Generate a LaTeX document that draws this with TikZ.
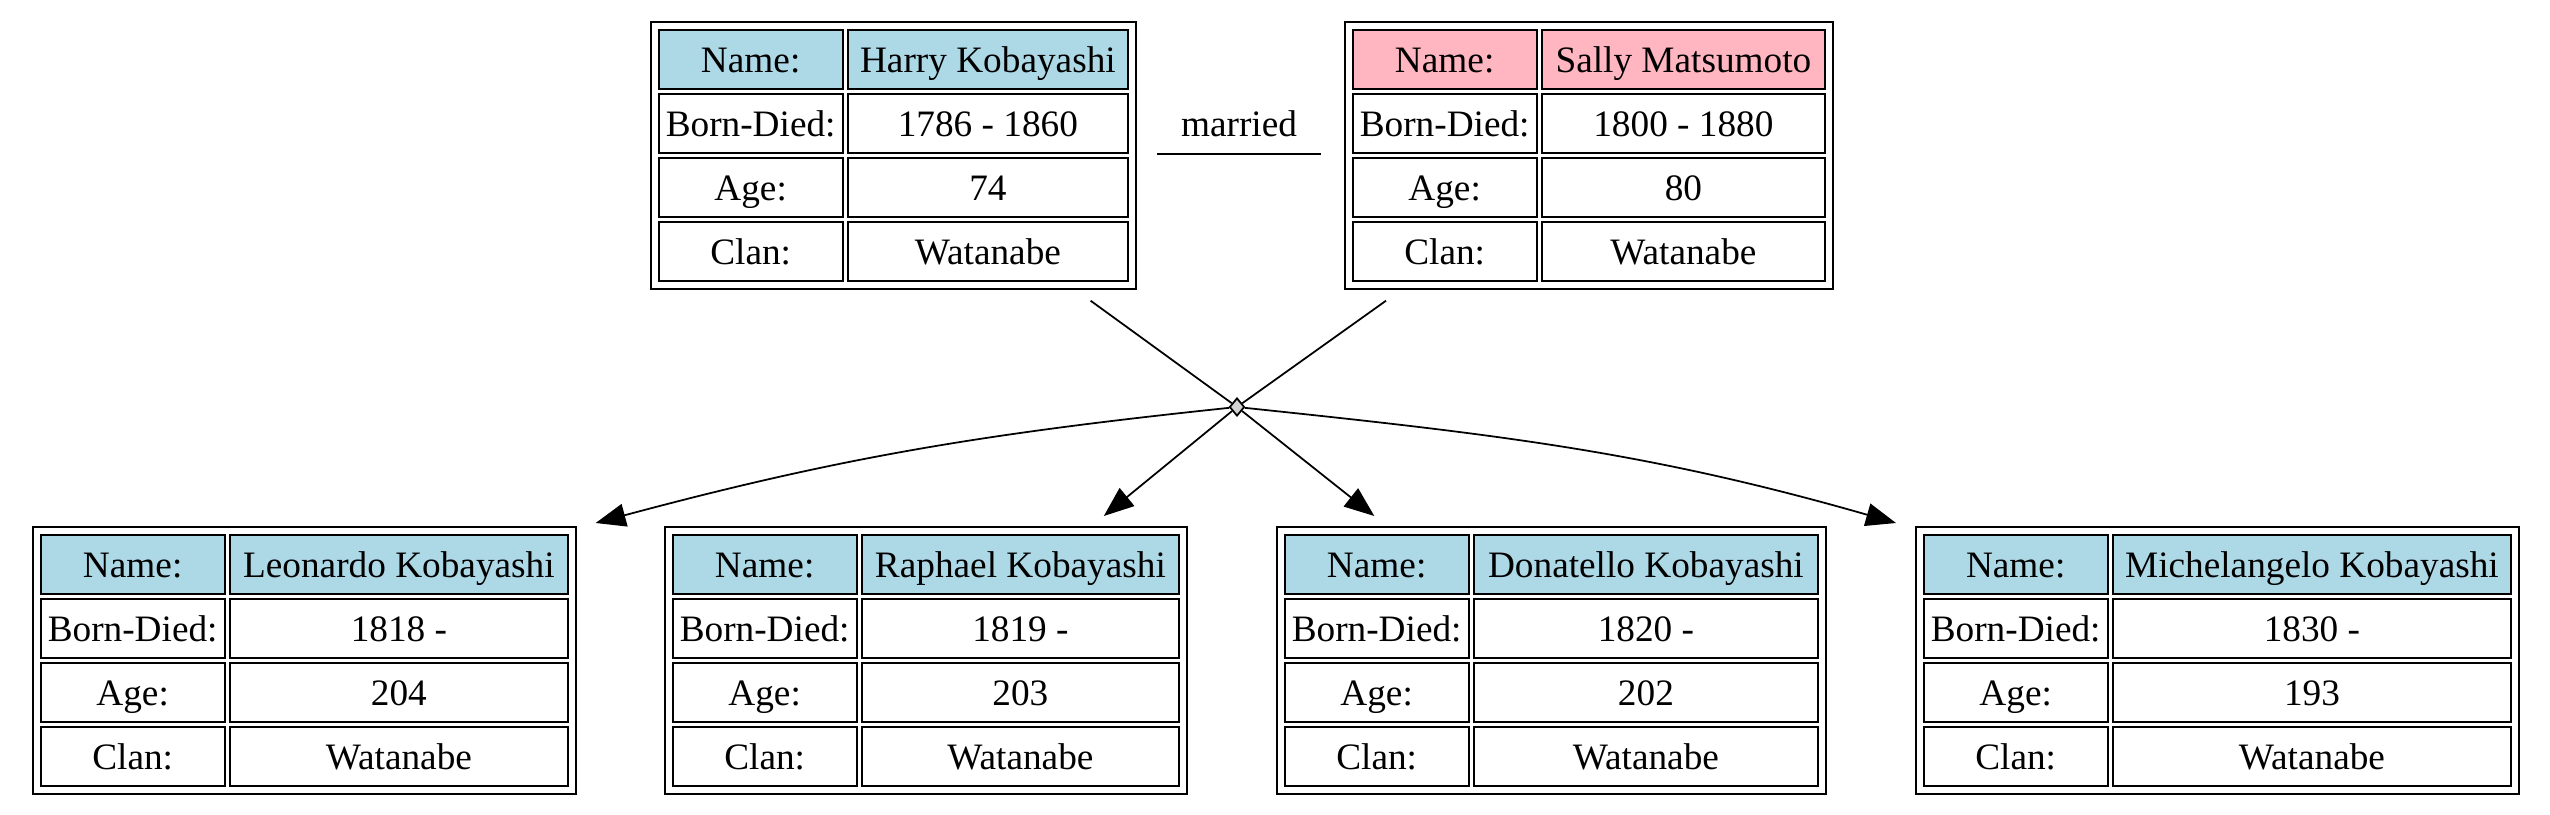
\documentclass[tikz,border=0pt]{standalone}
\usepackage{fontspec}
\setmainfont{Liberation Serif}
\usetikzlibrary{matrix,shapes.geometric,arrows.meta,calc}
\definecolor{lightblue}{HTML}{ADD8E6}
\definecolor{lightpink}{HTML}{FFB6C1}
\definecolor{lightgrey}{HTML}{D3D3D3}

\begin{document}
\fontsize{10.6}{12}\selectfont
\begin{tikzpicture}[
    x=0.01cm, y=-0.01cm,
    cell/.style={draw, line width=0.6pt, minimum height=0.59cm, inner sep=0pt, anchor=center,
        text height=0.30cm, text depth=0.04cm},
    person/.style n args={3}{matrix of nodes, draw, line width=0.6pt, anchor=north west,
        inner sep=0.065cm, row sep=0.03cm, column sep=0.03cm,
        nodes={cell},
        row 1/.style={nodes={fill=#1}},
        column 1/.style={nodes={minimum width=1.84cm}},
        column 2/.style={nodes={minimum width=#3}}},
    arrow/.style={-{Triangle[length=0.3cm, width=0.23cm]}, line width=0.5pt},
    link/.style={line width=0.5pt}
]
    \useasboundingbox (0,0) rectangle (2550,814);

    % Parents
    \matrix[person={lightblue}{}{2.80cm}] (harry) at (650,21) {
        Name: & Harry Kobayashi \\
        Born-Died: & 1786 - 1860 \\
        Age: & 74 \\
        Clan: & Watanabe \\
    };
    \matrix[person={lightpink}{}{2.83cm}] (sally) at (1344,21) {
        Name: & Sally Matsumoto \\
        Born-Died: & 1800 - 1880 \\
        Age: & 80 \\
        Clan: & Watanabe \\
    };

    % Marriage
    \node (married) at (1239,124) {married};
    \draw[line width=0.6pt] ($(married)+(-82,30)$) -- ($(married)+(82,30)$);
    \node[diamond, draw, fill=lightgrey, line width=0.5pt, minimum width=0.15cm, minimum height=0.18cm, inner sep=0pt] (union) at (1237,407) {};

    % Children
    \matrix[person={lightblue}{}{3.38cm}] (leonardo) at (32,526) {
        Name: & Leonardo Kobayashi \\
        Born-Died: & 1818 - \\
        Age: & 204 \\
        Clan: & Watanabe \\
    };
    \matrix[person={lightblue}{}{3.17cm}] (raphael) at (664,526) {
        Name: & Raphael Kobayashi \\
        Born-Died: & 1819 - \\
        Age: & 203 \\
        Clan: & Watanabe \\
    };
    \matrix[person={lightblue}{}{3.44cm}] (donatello) at (1276,526) {
        Name: & Donatello Kobayashi \\
        Born-Died: & 1820 - \\
        Age: & 202 \\
        Clan: & Watanabe \\
    };
    \matrix[person={lightblue}{}{3.98cm}] (michelangelo) at (1915,526) {
        Name: & Michelangelo Kobayashi \\
        Born-Died: & 1830 - \\
        Age: & 193 \\
        Clan: & Watanabe \\
    };

    % Edges
    \draw[link] ($(harry.south east)+(-46,11)$) -- (union);
    \draw[link] ($(sally.south west)+(42,11)$) -- (union);
    \draw[arrow] (union) to[out=186, in=15] ($(leonardo.north east)+(19,-3)$);
    \draw[arrow] (union) -- ($(raphael.north)+(178,-10)$);
    \draw[arrow] (union) -- ($(donatello.north)+(-177,-10)$);
    \draw[arrow] (union) to[out=-6, in=164] ($(michelangelo.north west)+(-19,-3)$);
\end{tikzpicture}
\end{document}
